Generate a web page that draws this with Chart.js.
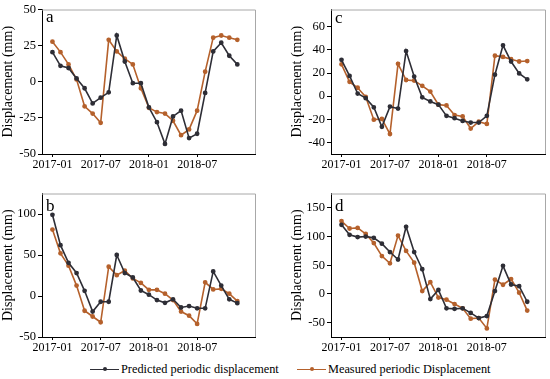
<!DOCTYPE html>
<html>
<head>
<meta charset="utf-8">
<script src="https://cdn.jsdelivr.net/npm/chart.js@4/dist/chart.umd.min.js"></script>
<style>
  html, body { margin:0; padding:0; background:#fff; }
  body { width:550px; height:379px; position:relative; overflow:hidden; font-family:'Liberation Serif', serif; }
  canvas { position:absolute; }
  #legend { position:absolute; top:361px; left:0; width:550px; height:16px; font-size:12.3px; color:#000; }
  .item { position:absolute; top:0; display:flex; align-items:center; height:16px; }
  .sw { position:relative; width:29px; height:16px; margin-right:2px; }
  .sw .ln { position:absolute; left:0; right:0; top:7.5px; height:1.3px; }
  .sw .dt { position:absolute; left:12.5px; top:6px; width:4px; height:4px; border-radius:2px; }
</style>
</head>
<body>
<canvas id="ca" width="275" height="175" style="left:0;top:0"></canvas>
<canvas id="cc" width="261" height="175" style="left:289px;top:0"></canvas>
<canvas id="cb" width="275" height="174" style="left:0;top:184px"></canvas>
<canvas id="cd" width="261" height="174" style="left:289px;top:184px"></canvas>
<div id="legend">
  <div class="item" style="left:90px"><div class="sw"><div class="ln" style="background:#2e2e36"></div><div class="dt" style="background:#2e2e36"></div></div><span>Predicted periodic displacement</span></div>
  <div class="item" style="left:297px"><div class="sw"><div class="ln" style="background:#b5612c"></div><div class="dt" style="background:#b5612c"></div></div><span>Measured periodic Displacement</span></div>
</div>
<script>
const months = ['2017-01','2017-02','2017-03','2017-04','2017-05','2017-06','2017-07','2017-08','2017-09','2017-10','2017-11','2017-12',
                '2018-01','2018-02','2018-03','2018-04','2018-05','2018-06','2018-07','2018-08','2018-09','2018-10','2018-11','2018-12'];
const xTickLabels = ['2017-01','2017-07','2018-01','2018-07'];

const predA = [20.5, 11, 9.5, 2.3, -4.5, -15, -11, -7.3, 32, 14, -1, -1, -17.7, -28, -43, -24, -20, -39, -36, -7.7, 21, 27, 18, 12];
const measA = [27.7, 20.5, 12, 1.6, -17, -22, -28.4, 29, 21, 16, 12, -4.5, -18, -21, -22, -27, -37, -33, -20, 7, 30.5, 32, 30.5, 29];

const predB = [99, 62, 40.5, 28, 6.3, -19, -7, -7, 50, 28, 22.6, 6.7, 1.6, -5, -8.3, -4, -14, -12.3, -15, -15, 30, 12.7, -4, -8.7];
const measB = [81, 52, 37, 12.7, -18, -25, -32, 35.7, 25.4, 31, 21.4, 16, 7.5, 7.5, 2.8, -5, -19, -24, -34, 16.7, 8, 8.7, 2.8, -6.3];

const predC = [31.5, 17.5, 2.3, -1.7, -9.6, -26.5, -9, -10.7, 39, 17, -1, -4.5, -7.3, -17, -19, -21.4, -22.8, -22.8, -17, 18.6, 44, 30, 19.7, 14.6];
const measC = [27.6, 12.4, 7.3, -0.6, -20.3, -19.7, -32.7, 28, 14, 13.5, 9, 4, -7.3, -8, -16.3, -17.5, -28, -22, -24, 35, 34, 32, 30, 30.4];

const predD = [120.5, 103, 99, 100, 97.7, 87.5, 73, 60, 117, 73, 43, -9, 7, -25, -26, -25, -33, -42, -38.6, 5, 49, 16.5, 13.6, -13.6];
const measD = [127, 114, 115, 104.5, 88.6, 66, 53.4, 101.7, 75, 54.5, 5, 20.5, -6.3, -10, -17.6, -25, -43, -42, -60, 25, 16, 26, 2.3, -29];

const yTicksA = [-50, -25, 0, 25, 50];
const yTicksB = [-50, 0, 50, 100];
const yTicksC = [-40, -20, 0, 20, 40, 60];
const yTicksD = [-50, 0, 50, 100, 150];

const PRED_COLOR = '#2e2e36';
const MEAS_COLOR = '#b5612c';
const FONT = "'Liberation Serif', 'Times New Roman', serif";

const framePlugin = {
  id: 'frame',
  afterDraw(chart, args, opts) {
    const {ctx, chartArea: a} = chart;
    ctx.save();
    ctx.strokeStyle = '#a8a8a8';
    ctx.lineWidth = 1;
    ctx.beginPath();
    ctx.moveTo(a.left, a.top + 0.5);
    ctx.lineTo(a.right + 0.5, a.top + 0.5);
    ctx.lineTo(a.right + 0.5, a.bottom);
    ctx.stroke();
    ctx.fillStyle = '#000';
    ctx.font = '17px ' + FONT;
    ctx.textBaseline = 'alphabetic';
    ctx.textAlign = 'left';
    ctx.fillText(opts.letter, a.left + 4, a.top + opts.dy);
    ctx.restore();
  }
};

function makeChart(id, pred, meas, yMin, yMax, yTicks, letter, dy, rightPad) {
  const toPts = arr => arr.map((v, i) => ({x: months.indexOf(months[i]), y: v}));
  const xPos = xTickLabels.map(l => months.indexOf(l));
  return new Chart(document.getElementById(id), {
    type: 'line',
    data: {
      datasets: [
        { label: 'Predicted periodic displacement', data: toPts(pred), borderColor: PRED_COLOR, backgroundColor: PRED_COLOR,
          borderWidth: 1.6, pointRadius: 1.6, pointHoverRadius: 1.6, tension: 0 },
        { label: 'Measured periodic Displacement', data: toPts(meas), borderColor: MEAS_COLOR, backgroundColor: MEAS_COLOR,
          borderWidth: 1.6, pointRadius: 1.6, pointHoverRadius: 1.6, tension: 0 }
      ]
    },
    options: {
      responsive: false,
      animation: false,
      devicePixelRatio: 1,
      layout: { padding: { top: 7, right: rightPad, left: 0, bottom: 0 } },
      plugins: { legend: { display: false }, tooltip: { enabled: false }, frame: { letter, dy } },
      scales: {
        x: {
          type: 'linear', min: -1.3, max: 25.2,
          afterBuildTicks: s => { s.ticks = xPos.map(v => ({value: v})); },
          afterFit: s => { s.height = 21; },
          ticks: {
            color: '#000', font: { family: FONT, size: 12 }, padding: 1, maxRotation: 0, autoSkip: false,
            callback: v => { const i = xPos.indexOf(v); return i >= 0 ? xTickLabels[i] : ''; }
          },
          grid: { display: true, drawOnChartArea: false, drawTicks: true, tickLength: 3, color: '#000' },
          border: { display: true, color: '#000', width: 1 }
        },
        y: {
          min: yMin, max: yMax,
          afterBuildTicks: s => { s.ticks = yTicks.map(v => ({value: v})); },
          afterFit: s => { s.width = 42; },
          ticks: { color: '#000', font: { family: FONT, size: 12.5 }, padding: 2 },
          grid: { display: true, drawOnChartArea: false, drawTicks: true, tickLength: 4, color: '#000' },
          border: { display: true, color: '#000', width: 1 },
          title: { display: true, text: 'Displacement (mm)', color: '#000', font: { family: FONT, size: 14 }, padding: { top: 0, bottom: 0 } }
        }
      }
    },
    plugins: [framePlugin]
  });
}

makeChart('ca', predA, measA, -50, 50, yTicksA, 'a', 12.5, 20);
makeChart('cc', predC, measC, -50, 75, yTicksC, 'c', 13, 5);
makeChart('cb', predB, measB, -50, 125, yTicksB, 'b', 17, 20);
makeChart('cd', predD, measD, -75, 175, yTicksD, 'd', 17, 5);
</script>
</body>
</html>
